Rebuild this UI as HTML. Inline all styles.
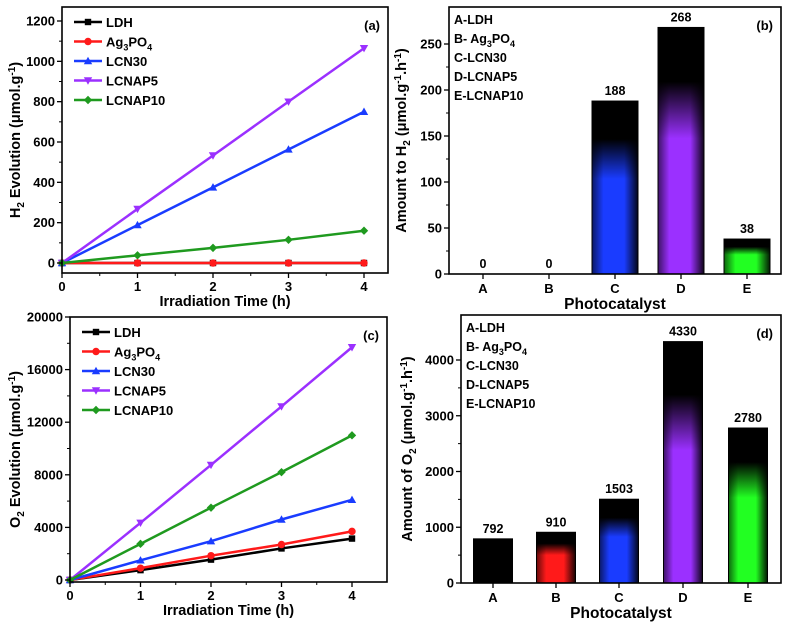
<!DOCTYPE html>
<html><head><meta charset="utf-8"><style>
html,body{margin:0;padding:0;background:#fff;}
svg{display:block;font-family:"Liberation Sans",sans-serif;font-weight:bold;}
</style></head><body>
<svg id="fig" width="787" height="628" viewBox="0 0 787 628" xmlns="http://www.w3.org/2000/svg">
<defs>
<linearGradient id="hshade" x1="0" x2="1" y1="0" y2="0"><stop offset="0" stop-color="#000" stop-opacity="0.6"/><stop offset="0.25" stop-color="#000" stop-opacity="0"/><stop offset="0.7" stop-color="#000" stop-opacity="0"/><stop offset="1" stop-color="#000" stop-opacity="0.9"/></linearGradient>
</defs>
</svg>
<script>
const times=[0,1,2,3,4];
const seriesNames=["LDH","Ag3PO4","LCN30","LCNAP5","LCNAP10"];
const seriesColors=["#000000","#ff1a1a","#1a3cff","#9b30ff","#1f9a1f"];
const h2LDH=[0,0,0,0,0];
const h2Ag=[0,0,0,0,0];
const h2LCN30=[0,188,375,563,750];
const h2LCNAP5=[0,268,533,800,1065];
const h2LCNAP10=[0,38,75,115,160];
const o2LDH=[0,750,1550,2400,3150];
const o2Ag=[0,900,1850,2700,3700];
const o2LCN30=[0,1500,2950,4600,6100];
const o2LCNAP5=[0,4350,8750,13200,17700];
const o2LCNAP10=[0,2750,5500,8200,11000];
const barCats=["A","B","C","D","E"];
const h2Rates=[0,0,188,268,38];
const o2Rates=[792,910,1503,4330,2780];
const barColors=["#000000","#ff1a1a","#1a3cff","#9b30ff","#22ff22"];
const h2Ticks=[0,200,400,600,800,1000,1200];
const o2Ticks=[0,4000,8000,12000,16000,20000];
const h2RateTicks=[0,50,100,150,200,250];
const o2RateTicks=[0,1000,2000,3000,4000];

const NS="http://www.w3.org/2000/svg";
const svg=document.getElementById('fig');
function el(tag,attrs,parent,text){const e=document.createElementNS(NS,tag);for(const k in attrs)e.setAttribute(k,attrs[k]);if(text!==undefined)e.textContent=text;(parent||svg).appendChild(e);return e;}
function lin(d0,d1,r0,r1){return v=>r0+(v-d0)*(r1-r0)/(d1-d0);}
let gid=0;

function frame(g,b,prefix){
  const r=el('rect',{x:b.l,y:b.t,width:b.r-b.l,height:b.b-b.t,fill:'none',stroke:'#000','stroke-width':1.6},g);
  
  
}
function yAxis(g,b,ticks,y,prefix,minorStep){
  ticks.forEach(t=>{
    el('line',{x1:b.l-5,x2:b.l,y1:y(t),y2:y(t),stroke:'#000','stroke-width':1.3},g);
    const tx=el('text',{x:b.l-7,y:y(t)+4.5,'text-anchor':'end','font-size':13},g,String(t));
    
    
  });
  if(minorStep){for(let v=ticks[0]+minorStep;v<ticks[ticks.length-1];v+=minorStep*2){el('line',{x1:b.l-3,x2:b.l,y1:y(v),y2:y(v),stroke:'#000','stroke-width':1},g);}}
}
function ylabel(g,x,y,parts,prefix){
  const t=el('text',{transform:`translate(${x},${y}) rotate(-90)`,'text-anchor':'middle','font-size':14.5},g);
  
  
  parts.forEach(p=>{el('tspan',p.a||{},t,p.s);});
}
function legendLine(g,x,y,name,color,marker,prefix){
  el('line',{x1:x,x2:x+28,y1:y,y2:y,stroke:color,'stroke-width':2.5},g);
  drawMarker(g,x+14,y,marker,color,3.2);
  const t=el('text',{x:x+32,y:y+5,'font-size':13},g);
  
  
  if(name==="Ag3PO4"){el('tspan',{},t,'Ag');el('tspan',{dy:4,'font-size':9},t,'3');el('tspan',{dy:-4},t,'PO');el('tspan',{dy:4,'font-size':9},t,'4');}
  else t.textContent=name;
}
function drawMarker(g,x,y,m,c,s){
  if(m==='sq')return el('rect',{x:x-s,y:y-s,width:2*s,height:2*s,fill:c},g);
  if(m==='ci')return el('circle',{cx:x,cy:y,r:s+0.5,fill:c},g);
  if(m==='tu')return el('polygon',{points:`${x},${y-s-1} ${x-s-1},${y+s} ${x+s+1},${y+s}`,fill:c},g);
  if(m==='td')return el('polygon',{points:`${x},${y+s+1} ${x-s-1},${y-s} ${x+s+1},${y-s}`,fill:c},g);
  return el('polygon',{points:`${x},${y-s-1} ${x+s+1},${y} ${x},${y+s+1} ${x-s-1},${y}`,fill:c},g);
}
const markers=['sq','ci','tu','td','di'];

function linePanel(b,yMax,ticks,minor,data,prefix,panelLbl,xr,ylab,ylx){
  const g=el('g',{});
  
  
  const x=lin(0,4,xr[0],xr[1]);
  const y=lin(0,ticks[ticks.length-1],b.y0,b.yTop);
  // series
  data.forEach((arr,i)=>{
    const pts=times.map((t,j)=>x(t)+','+y(arr[j])).join(' ');
    const pl=el('polyline',{points:pts,fill:'none',stroke:seriesColors[i],'stroke-width':2.5},g);
    
    
    times.forEach((t,j)=>{const mk=drawMarker(g,x(t),y(arr[j]),markers[i],seriesColors[i],3.2);
      
      });
  });
  frame(g,b,prefix);
  yAxis(g,b,ticks,y,prefix,minor);
  [0,1,2,3,4].forEach(t=>{
    el('line',{x1:x(t),x2:x(t),y1:b.b,y2:b.b+5,stroke:'#000','stroke-width':1.3},g);
    if(t<4)el('line',{x1:x(t+0.5),x2:x(t+0.5),y1:b.b,y2:b.b+3,stroke:'#000','stroke-width':1},g);
    const tx=el('text',{x:x(t),y:b.b+18,'text-anchor':'middle','font-size':13},g,String(t));
    
    
  });
  const xt=el('text',{x:(b.l+b.r)/2,y:b.b+33,'text-anchor':'middle','font-size':14.5},g,'Irradiation Time (h)');
  
  
  const pl=el('text',{x:b.r-8,y:b.t+23,'text-anchor':'end','font-size':13},g,panelLbl);
  
  
  seriesNames.forEach((n,i)=>legendLine(g,b.l+12,b.t+15+i*19.5,n,seriesColors[i],markers[i],prefix));
  ylabel(g,ylx,(b.t+b.b)/2,ylab,prefix);
}

function barPanel(b,ticks,minor,vals,prefix,panelLbl,centers,w,ylab,ylx){
  const g=el('g',{});
  
  
  const y=lin(0,ticks[ticks.length-1],b.y0,b.yTop);
  vals.forEach((v,i)=>{
    const id='vg'+(gid++);
    const lg=el('linearGradient',{id:id,x1:0,x2:0,y1:0,y2:1},svg.querySelector('defs'));
    el('stop',{offset:0,'stop-color':'#000'},lg);
    el('stop',{offset:0.22,'stop-color':'#000'},lg);
    el('stop',{offset:0.45,'stop-color':barColors[i]},lg);
    el('stop',{offset:1,'stop-color':barColors[i]},lg);
    const h=y(0)-y(v);
    if(h>0){
      const r=el('rect',{x:centers[i]-w/2,y:y(v),width:w,height:h,fill:`url(#${id})`,stroke:'#000','stroke-width':1},g);
      
      
      el('rect',{x:centers[i]-w/2,y:y(v),width:w,height:h,fill:'url(#hshade)'},g);
    }
    const t=el('text',{x:centers[i],y:y(v)-6,'text-anchor':'middle','font-size':12.5},g,String(v));
    
    
    el('line',{x1:centers[i],x2:centers[i],y1:b.b,y2:b.b+5,stroke:'#000','stroke-width':1.3},g);
    const c=el('text',{x:centers[i],y:b.b+19,'text-anchor':'middle','font-size':13},g,barCats[i]);
    
    
  });
  frame(g,b,prefix);
  yAxis(g,b,ticks,y,prefix,minor);
  const xt=el('text',{x:(b.l+b.r)/2,y:b.b+35,'text-anchor':'middle','font-size':15.5},g,'Photocatalyst');
  
  
  const pl=el('text',{x:b.r-8,y:b.t+23,'text-anchor':'end','font-size':13},g,panelLbl);
  
  
  const key=["A-LDH","B- Ag3PO4","C-LCN30","D-LCNAP5","E-LCNAP10"];
  key.forEach((k,i)=>{
    const t=el('text',{x:b.l+5,y:b.t+17+i*19,'font-size':12.5},g);
    
    
    if(i===1){el('tspan',{},t,'B- Ag');el('tspan',{dy:4,'font-size':9},t,'3');el('tspan',{dy:-4},t,'PO');el('tspan',{dy:4,'font-size':9},t,'4');}
    else t.textContent=k;
  });
  ylabel(g,ylx,(b.t+b.b)/2,ylab,prefix);
}

const sub=(s)=>({s:s,a:{dy:4,'font-size':10}});
const up=(s)=>({s:s,a:{dy:-4}});
linePanel({l:62,r:388,t:7,b:273,y0:263,yTop:21},1200,h2Ticks,100,[h2LDH,h2Ag,h2LCN30,h2LCNAP5,h2LCNAP10],'panel-a','(a)',[62,364],
 [{s:'H'},sub('2'),up(' Evolution (μmol.g'),{s:'-1',a:{dy:-5,'font-size':10}},{s:')',a:{dy:5}}],20);
barPanel({l:449,r:781,t:7,b:274,y0:274,yTop:44},h2RateTicks,25,h2Rates,'panel-b','(b)',[483,549,615,681,747],46,
 [{s:'Amount to H'},sub('2'),up(' (μmol.g'),{s:'-1',a:{dy:-5,'font-size':10}},{s:'.h',a:{dy:5}},{s:'-1',a:{dy:-5,'font-size':10}},{s:')',a:{dy:5}}],406);
linePanel({l:70,r:387,t:317,b:582,y0:580,yTop:317},20000,o2Ticks,2000,[o2LDH,o2Ag,o2LCN30,o2LCNAP5,o2LCNAP10],'panel-c','(c)',[70,352],
 [{s:'O'},sub('2'),up(' Evolution (μmol.g'),{s:'-1',a:{dy:-5,'font-size':10}},{s:')',a:{dy:5}}],20);
barPanel({l:461,r:781,t:315,b:583,y0:583,yTop:360},o2RateTicks,500,o2Rates,'panel-d','(d)',[493,556,619,683,748],39,
 [{s:'Amount of O'},sub('2'),up(' (μmol.g'),{s:'-1',a:{dy:-5,'font-size':10}},{s:'.h',a:{dy:5}},{s:'-1',a:{dy:-5,'font-size':10}},{s:')',a:{dy:5}}],412);
</script>
</body></html>
